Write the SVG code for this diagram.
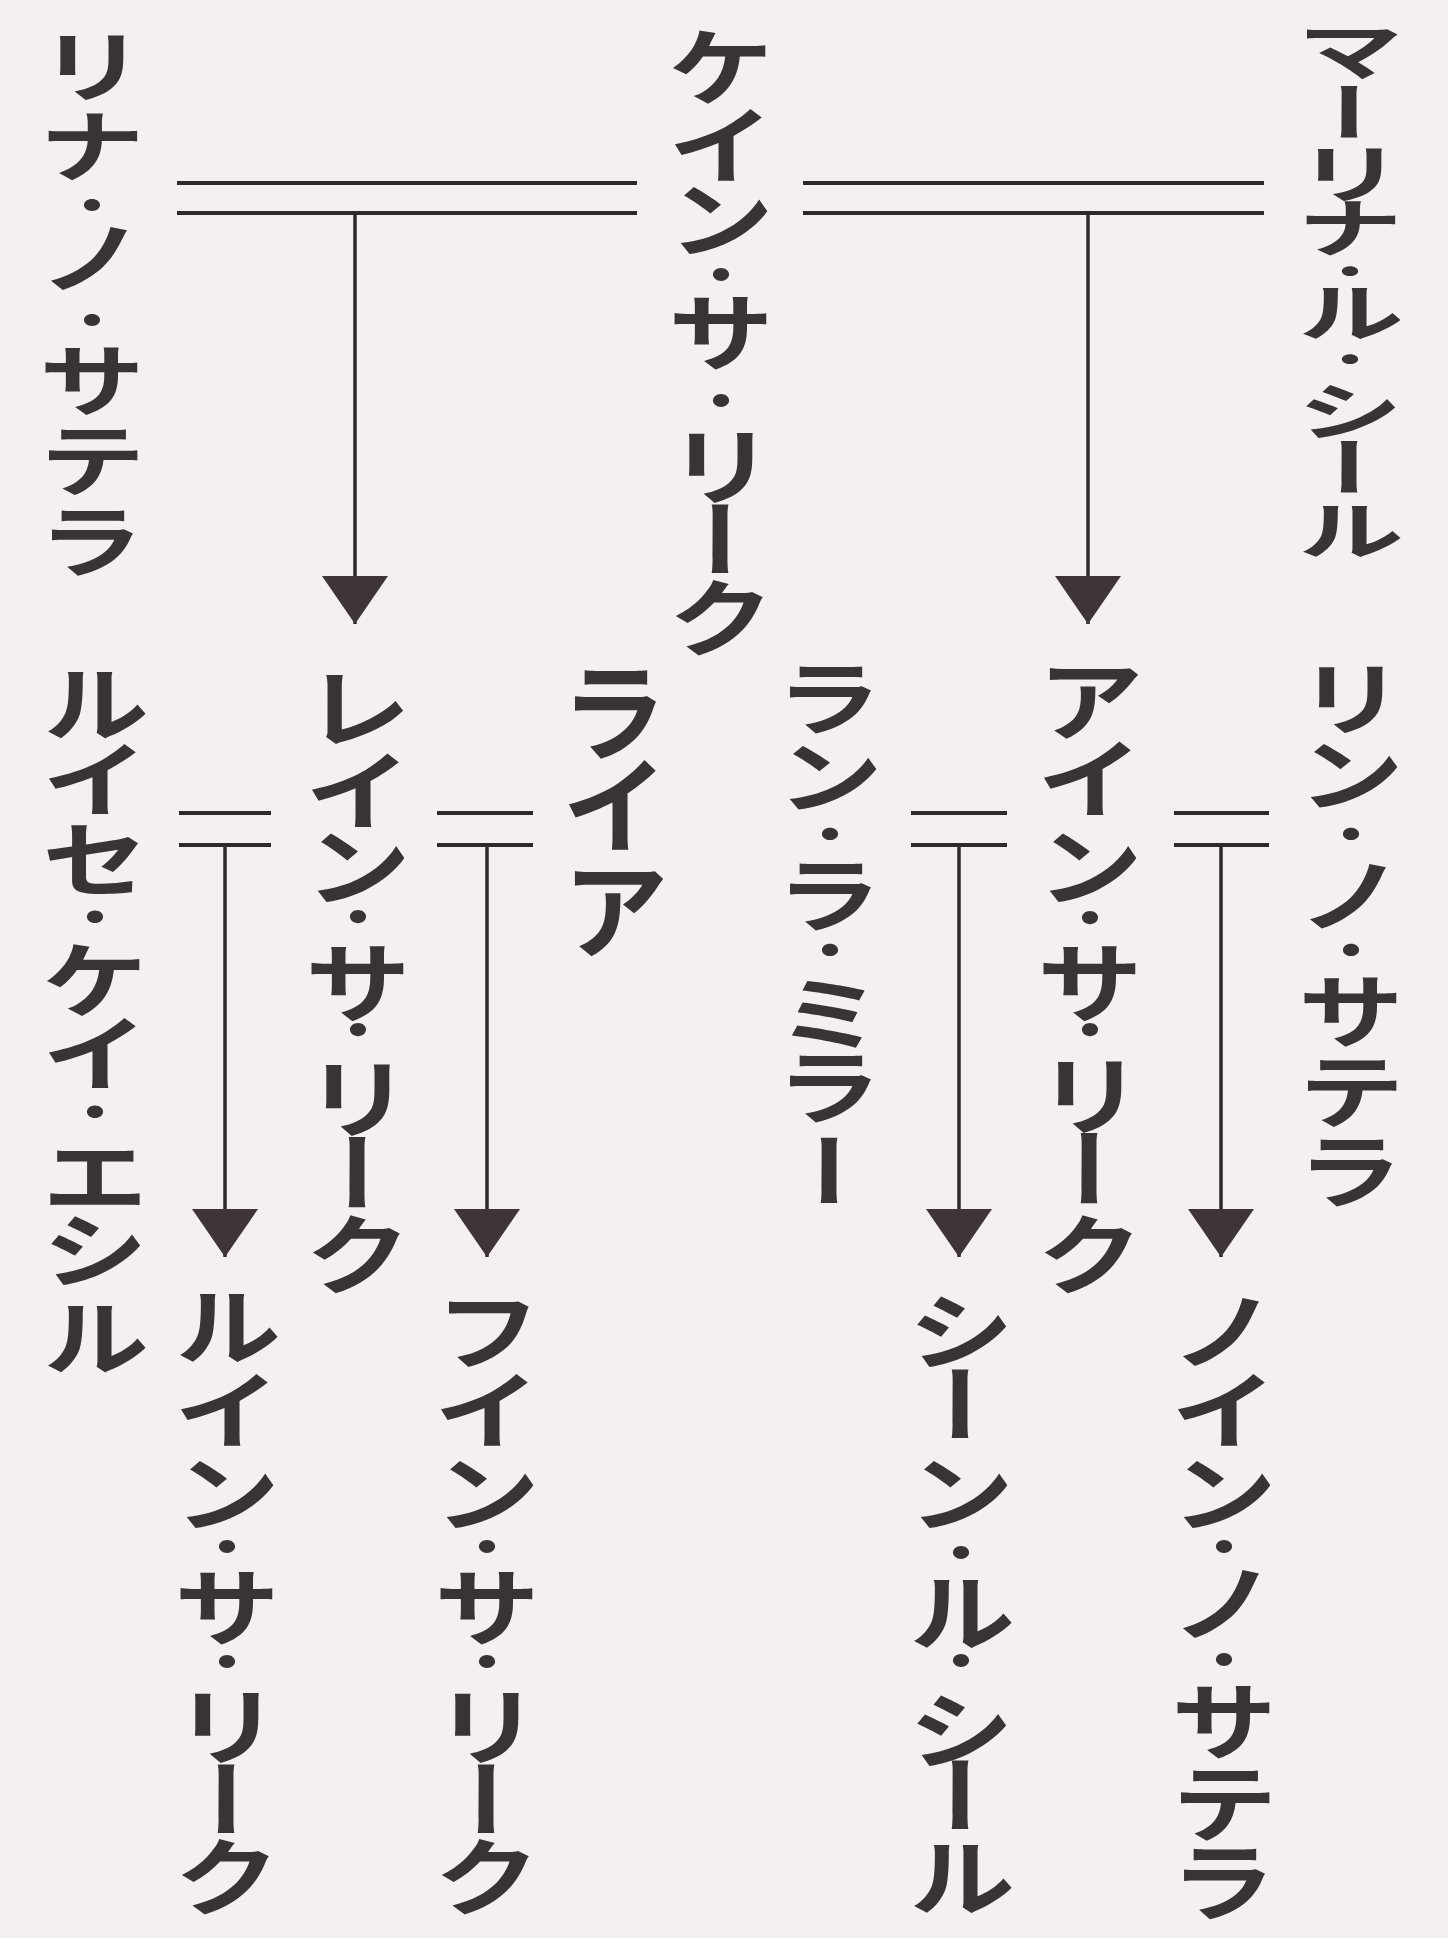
<svg xmlns="http://www.w3.org/2000/svg" width="1448" height="1938" viewBox="0 0 1448 1938">
<style>
.n{font-family:"Noto Sans CJK JP","Noto Sans CJK SC",sans-serif;font-size:108px;font-weight:700;writing-mode:vertical-rl;text-orientation:upright;fill:#3a3335;}
.d{font-size:76px;font-weight:400;}
.ln{stroke:#2f292b;stroke-width:4;fill:none;}
.ar{stroke:#2f292b;stroke-width:3.5;fill:none;marker-end:url(#tri);}
</style>
<defs>
<marker id="tri" markerUnits="userSpaceOnUse" markerWidth="52" markerHeight="70" refX="48" refY="33" orient="auto" viewBox="0 0 52 70">
<path d="M0,0 L48,33 L0,66 z" fill="#3d3537"/>
</marker>
</defs>
<rect width="1448" height="1938" fill="#f6eff1"/>
<g id="connectors">
<line class="ln" x1="177" y1="183" x2="637" y2="183"/>
<line class="ln" x1="177" y1="213" x2="637" y2="213"/>
<line class="ar" x1="355" y1="213" x2="355" y2="624"/>
<line class="ln" x1="803" y1="183" x2="1264" y2="183"/>
<line class="ln" x1="803" y1="213" x2="1264" y2="213"/>
<line class="ar" x1="1088" y1="213" x2="1088" y2="624"/>
<line class="ln" x1="179" y1="813" x2="271" y2="813"/>
<line class="ln" x1="179" y1="845" x2="271" y2="845"/>
<line class="ar" x1="225" y1="845" x2="225" y2="1257"/>
<line class="ln" x1="437" y1="813" x2="533" y2="813"/>
<line class="ln" x1="437" y1="845" x2="533" y2="845"/>
<line class="ar" x1="487" y1="845" x2="487" y2="1257"/>
<line class="ln" x1="911" y1="813" x2="1007" y2="813"/>
<line class="ln" x1="911" y1="845" x2="1007" y2="845"/>
<line class="ar" x1="959" y1="845" x2="959" y2="1257"/>
<line class="ln" x1="1174" y1="813" x2="1269" y2="813"/>
<line class="ln" x1="1174" y1="845" x2="1269" y2="845"/>
<line class="ar" x1="1221" y1="845" x2="1221" y2="1257"/>
</g>
<g id="rina">
<text class="n" transform="translate(92,0) scale(1,0.74)" x="0" y="34.4 142.6 239 292.6 394.4 458.8 566.9 676.4">リナ<tspan class="d">・</tspan>ノ<tspan class="d">・</tspan>サテラ</text>
</g>
<g id="kein">
<text class="n" transform="translate(721,0) scale(1,0.8)" x="0" y="30 127.5 220 305.75 361.25 463.25 528.75 621.25 718.75">ケイン<tspan class="d">・</tspan>サ<tspan class="d">・</tspan>リーク</text>
</g>
<g id="marina">
<text class="n" transform="translate(1350,0) scale(1,0.6)" x="0" y="30.8 132.5 234.2 324.2 415.3 464.2 562 630.8 725.8 827.5">マーリナ<tspan class="d">・</tspan>ル<tspan class="d">・</tspan>シール</text>
</g>
<g id="luise">
<text class="n" transform="translate(95,0) scale(1,0.78)" x="0" y="847.7 945.1 1047.7 1136.4 1202.8 1296.4 1387.7 1454.1 1549 1660.5">ルイセ<tspan class="d">・</tspan>ケイ<tspan class="d">・</tspan>エシル</text>
</g>
<g id="rein">
<text class="n" transform="translate(358,0) scale(1,0.82)" x="0" y="808.4 909.6 1001.1 1081.5 1143.8 1218.1 1285.2 1376.7 1475.5">レイン<tspan class="d">・</tspan>サ<tspan class="d">・</tspan>リーク</text>
</g>
<g id="raia">
<text class="n" transform="translate(615,0)" x="0" y="657.5 750.5 855.5">ライア</text>
</g>
<g id="ran">
<text class="n" transform="translate(830,0) scale(1,0.76)" x="0" y="863.6 966.2 1059.4 1122.8 1212.1 1278 1375.4 1487.2">ラン<tspan class="d">・</tspan>ラ<tspan class="d">・</tspan>ミラー</text>
</g>
<g id="ain">
<text class="n" transform="translate(1090,0) scale(1,0.82)" x="0" y="799.9 895 1001.1 1082.7 1143.8 1218.1 1281.6 1371.8 1475.5">アイン<tspan class="d">・</tspan>サ<tspan class="d">・</tspan>リーク</text>
</g>
<g id="rin">
<text class="n" transform="translate(1351,0) scale(1,0.76)" x="0" y="863.6 963.6 1059.4 1122.8 1212.1 1275.4 1380.7 1487.2">リン<tspan class="d">・</tspan>ノ<tspan class="d">・</tspan>サテラ</text>
</g>
<g id="ruin">
<text class="n" transform="translate(227,0) scale(1,0.8)" x="0" y="1603.75 1708.75 1812.5 1895.75 1955 2039.5 2103.75 2196.25 2292.5">ルイン<tspan class="d">・</tspan>サ<tspan class="d">・</tspan>リーク</text>
</g>
<g id="fin">
<text class="n" transform="translate(487,0) scale(1,0.8)" x="0" y="1610 1708.75 1812.5 1895.75 1955 2039.5 2103.75 2196.25 2292.5">フイン<tspan class="d">・</tspan>サ<tspan class="d">・</tspan>リーク</text>
</g>
<g id="sheen">
<text class="n" transform="translate(961,0) scale(1,0.8)" x="0" y="1610 1702.5 1812.5 1903.25 1961.25 2038.25 2108.75 2191.25 2292.5">シーン<tspan class="d">・</tspan>ル<tspan class="d">・</tspan>シール</text>
</g>
<g id="noin">
<text class="n" transform="translate(1224,0) scale(1,0.8)" x="0" y="1610 1708.75 1812.5 1895.75 1950 2037 2097.5 2200 2298.75">ノイン<tspan class="d">・</tspan>ノ<tspan class="d">・</tspan>サテラ</text>
</g>
</svg>
